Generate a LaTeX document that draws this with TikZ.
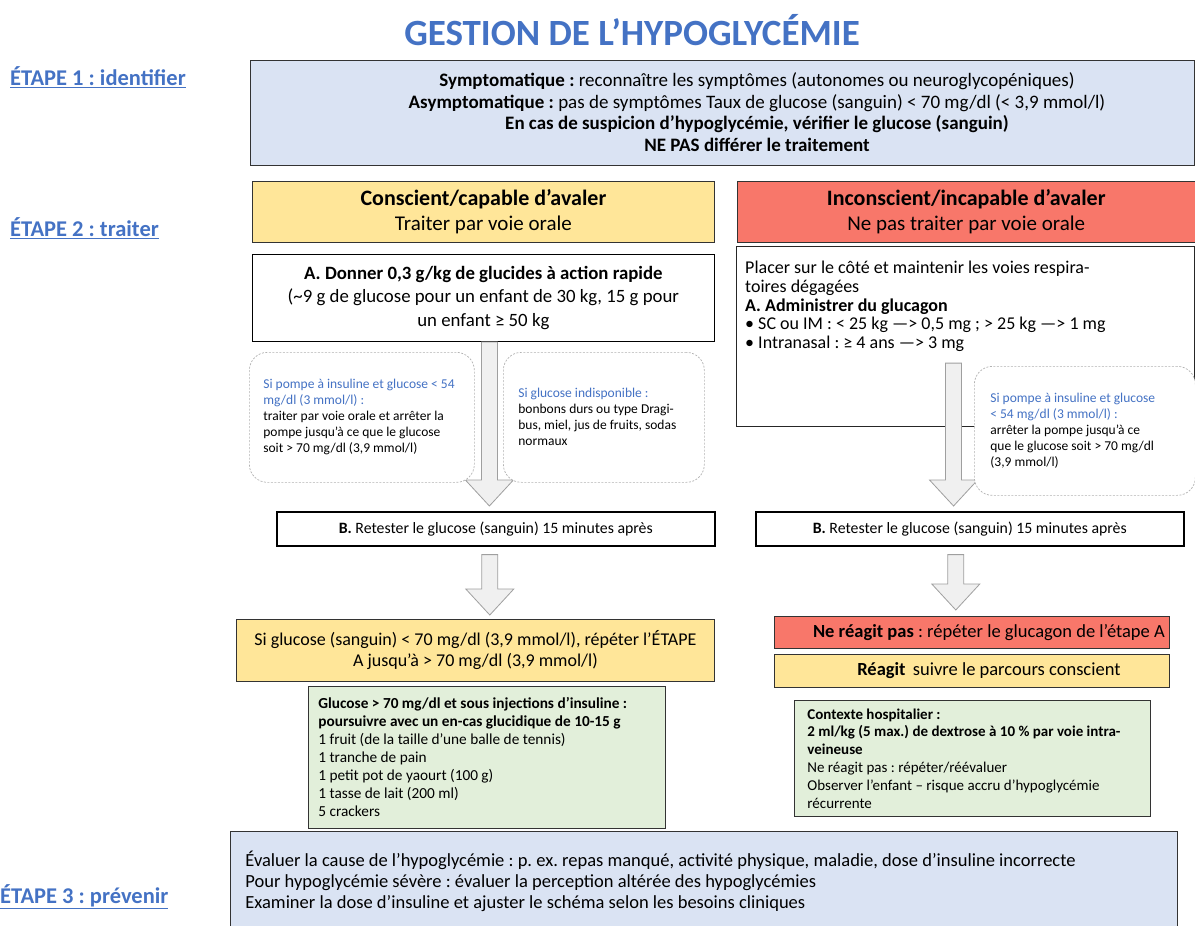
\documentclass[tikz,border=0pt]{standalone}
\usepackage{fontspec}
\setmainfont{Carlito}
\usepackage{tikz}
\usetikzlibrary{positioning}
\usetikzlibrary{calc}

\definecolor{hblue}{HTML}{4472C4}
\definecolor{skyfill}{HTML}{DAE3F3}
\definecolor{sunfill}{HTML}{FFE699}
\definecolor{redfill}{HTML}{F8776A}
\definecolor{leaffill}{HTML}{E2EFDA}

\tikzset{
	box/.style={draw=black!80, line width=0.8pt, anchor=north west, inner sep=0pt, align=center},
	bbox/.style={box, draw=black, line width=1.6pt},
	tipbox/.style={draw=gray!60, line width=0.7pt, dash pattern=on 2pt off 1.5pt, rounded corners=18pt, fill=white, anchor=north west, align=flush left, inner ysep=0pt, font=\fontsize{13.5}{16}\selectfont},
	etape/.style={text=hblue, anchor=west, inner sep=0pt, font=\bfseries\fontsize{22.5}{24}\selectfont},
	fat/.style={draw=gray!75, fill=gray!12, line width=0.8pt},
}
\newcommand{\fatarrow}[2]{\draw[fat] let \p1=#1, \p2=#2 in (\x1-8pt,\y1) -- (\x1+8pt,\y1) -- (\x1+8pt,\y2+26pt) -- (\x1+24pt,\y2+26pt) -- (\x1,\y2) -- (\x1-24pt,\y2+26pt) -- (\x1-8pt,\y2+26pt) -- cycle;}

\begin{document}
\frenchspacing
\setlength{\lineskiplimit}{-100pt}
\begin{tikzpicture}[x=1pt,y=-1pt]
	\useasboundingbox (0,0) rectangle (1195,926);
	\clip (0,0) rectangle (1195,926);
	
	\node[text=hblue, font=\bfseries\fontsize{37}{40}\selectfont] (title) at (632,30) {GESTION DE L’HYPOGLYCÉMIE};
	\node[etape] (e1) at (10,77) {\underline{ÉTAPE 1 : identifier}};
	\node[etape] (e2) at (10,228) {\underline{ÉTAPE 2 : traiter}};
	\node[etape] (e3) at (0,897) {\underline{ÉTAPE 3 : prévenir}};
	
	\node[box, fill=skyfill, minimum width=944pt, minimum height=105pt] (ident) at (250,60) {};
	\node[align=center, font=\fontsize{19}{21.7}\selectfont] (identtext) at (757,112) {{\bfseries Symptomatique :} reconnaître les symptômes (autonomes ou neuroglycopéniques)\\{\bfseries Asymptomatique :} pas de symptômes Taux de glucose (sanguin) < 70 mg/dl (< 3,9 mmol/l)\\{\bfseries En cas de suspicion d’hypoglycémie, vérifier le glucose (sanguin)}\\{\bfseries NE PAS différer le traitement}};
	
	\node[box, fill=sunfill, minimum width=462pt, minimum height=61pt, font=\fontsize{21}{25}\selectfont] (conscL) at (252,181) {{\bfseries\fontsize{22}{25}\selectfont Conscient/capable d’avaler}\\Traiter par voie orale};
	\node[box, fill=redfill, minimum width=458pt, minimum height=61pt, font=\fontsize{21}{25}\selectfont, right=22pt of conscL] (inconR) {{\bfseries\fontsize{22}{25}\selectfont Inconscient/incapable d’avaler}\\Ne pas traiter par voie orale};
	
	\node[box, draw=black, line width=1.1pt, fill=white, minimum width=462pt, minimum height=87pt, font=\fontsize{18.8}{23.5}\selectfont, below=11pt of conscL] (giveL) {{\bfseries A. Donner 0,3 g/kg de glucides à action rapide}\\(\textasciitilde9 g de glucose pour un enfant de 30 kg, 15 g pour\\un enfant ≥ 50 kg};
	\node[box, draw=black!85, line width=1.1pt, fill=white, minimum width=458pt, minimum height=180pt] (giveR) at (736,246) {};
	\node[anchor=north west, inner sep=0pt, align=left, font=\fontsize{18}{18.7}\selectfont] (giveRtext) at (745,261) {Placer sur le côté et maintenir les voies respira-\\toires dégagées\\{\bfseries A. Administrer du glucagon}\\• SC ou IM : < 25 kg —> 0,5 mg ; > 25 kg —> 1 mg\\• Intranasal : ≥ 4 ans —> 3 mg};
	
	\node[bbox, fill=white, minimum width=438pt, minimum height=34pt, font=\fontsize{15.8}{18}\selectfont] (retestL) at (276,511) {{\bfseries B.} Retester le glucose (sanguin) 15 minutes après};
	\node[bbox, fill=white, minimum width=428pt, minimum height=34pt, font=\fontsize{15.8}{18}\selectfont] (retestR) at (755,511) {{\bfseries B.} Retester le glucose (sanguin) 15 minutes après};
	
	\node[box, fill=sunfill, minimum width=478pt, minimum height=62pt, font=\fontsize{18}{21}\selectfont] (repeatL) at (236,619) {Si glucose (sanguin) < 70 mg/dl (3,9 mmol/l), répéter l’ÉTAPE\\A jusqu’à > 70 mg/dl (3,9 mmol/l)};
	\node[box, fill=leaffill, minimum width=357pt, minimum height=142pt, text width=337pt, inner xsep=10pt, align=flush left, font=\fontsize{15.3}{18}\selectfont] (snackL) at (308,686) {{\bfseries Glucose > 70 mg/dl et sous injections d’insuline :}\\{\bfseries poursuivre avec un en-cas glucidique de 10-15 g}\\1 fruit (de la taille d’une balle de tennis)\\1 tranche de pain\\1 petit pot de yaourt (100 g)\\1 tasse de lait (200 ml)\\5 crackers};
	
	\node[box, fill=redfill, minimum width=395pt, minimum height=32pt] (noreactR) at (774,616) {};
	\node[font=\fontsize{18.5}{20}\selectfont] (noreactRtext) at ($(noreactR.center)+(17,0)$) {{\bfseries Ne réagit pas} : répéter le glucagon de l’étape A};
	\node[box, fill=sunfill, minimum width=395pt, minimum height=33pt, below=5pt of noreactR] (reactR) {};
	\node[font=\fontsize{18.5}{20}\selectfont] (reactRtext) at ($(reactR.center)+(17,0)$) {{\bfseries Réagit}\, suivre le parcours conscient};
	\node[box, fill=leaffill, minimum width=356pt, minimum height=116pt, text width=330pt, inner xsep=13pt, align=flush left, font=\fontsize{15}{17.8}\selectfont] (hospR) at (794,700) {{\bfseries Contexte hospitalier :}\\{\bfseries 2 ml/kg (5 max.) de dextrose à 10 \% par voie intra-}\\{\bfseries veineuse}\\Ne réagit pas : répéter/réévaluer\\Observer l’enfant – risque accru d’hypoglycémie\\récurrente};
	
	\node[box, fill=skyfill, minimum width=947pt, minimum height=100pt, text width=917pt, inner xsep=15pt, align=flush left, font=\fontsize{18.5}{21}\selectfont] (prevent) at (230,831) {Évaluer la cause de l’hypoglycémie : p. ex. repas manqué, activité physique, maladie, dose d’insuline incorrecte\\Pour hypoglycémie sévère : évaluer la perception altérée des hypoglycémies\\Examiner la dose d’insuline et ajuster le schéma selon les besoins cliniques};
	
	\coordinate (rstart) at ($(giveR.south)+(-12,-64)$);
	\fatarrow{($(giveL.south)+(6,0)$)}{($(retestL.north)+(-6,-5)$)}
	\fatarrow{(rstart)}{($(retestR.north)+(0,-5)$)}
	\fatarrow{($(retestL.south)+(-6,8)$)}{($(repeatL.north)+(0,-4)$)}
	\fatarrow{($(retestR.south)+(-14,8)$)}{($(noreactR.north)+(0,-6)$)}
	
	\node[tipbox, minimum width=225pt, minimum height=130pt, text width=197pt, inner xsep=14pt] (pumpL) at (249,352) {{\color{hblue}Si pompe à insuline et glucose < 54}\\{\color{hblue}mg/dl (3 mmol/l) :}\\traiter par voie orale et arrêter la\\pompe jusqu’à ce que le glucose\\soit > 70 mg/dl (3,9 mmol/l)};
	\node[tipbox, minimum width=201pt, minimum height=130pt, text width=171pt, inner xsep=15pt] (nogluc) at (503,352) {{\color{hblue}Si glucose indisponible :}\\bonbons durs ou type Dragi-\\bus, miel, jus de fruits, sodas\\normaux};
	\node[tipbox, minimum width=221pt, minimum height=129pt, text width=189pt, inner xsep=16pt] (pumpR) at (974,366) {{\color{hblue}Si pompe à insuline et glucose}\\{\color{hblue}< 54 mg/dl (3 mmol/l) :}\\arrêter la pompe jusqu’à ce\\que le glucose soit > 70 mg/dl\\(3,9 mmol/l)};
	
\end{tikzpicture}
\end{document}
